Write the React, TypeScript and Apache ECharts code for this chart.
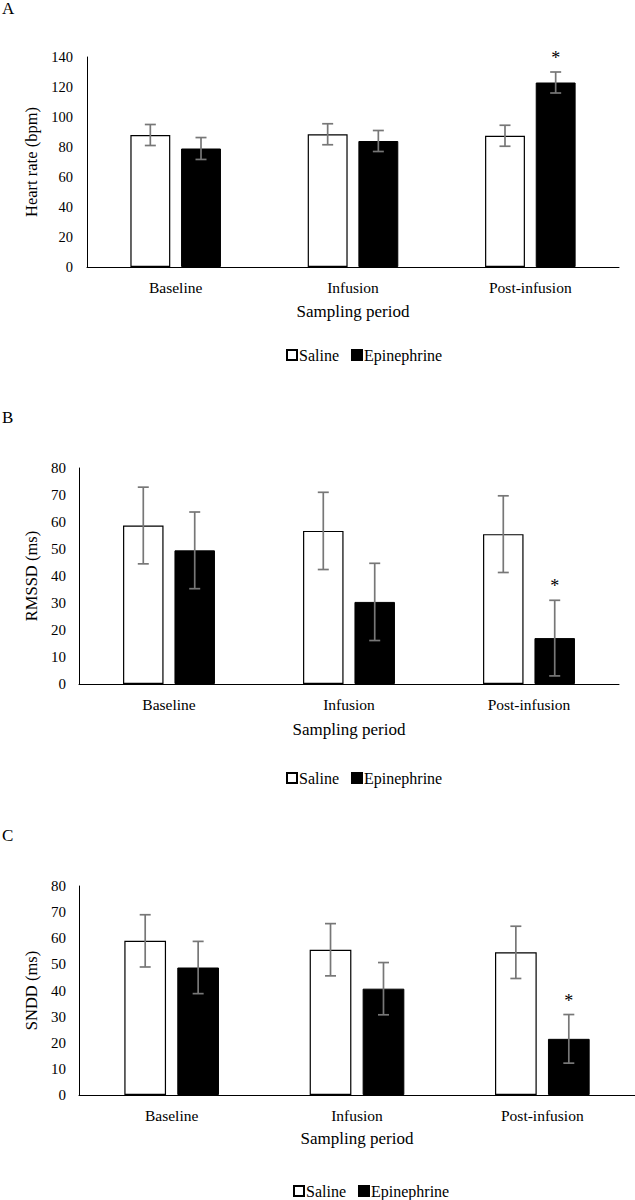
import React, { useEffect, useRef } from "react";
import * as echarts from "echarts";

const categories = ["Baseline", "Infusion", "Post-infusion"];
const seriesNames = ["Saline", "Epinephrine"];

// Panel A: Heart rate (bpm)
const hrSaline = [88, 88.5, 87.5];
const hrSalineSem = [7, 7, 7];
const hrEpi = [79, 84, 123];
const hrEpiSem = [7.3, 7, 7];
const hrSig = [0, 0, 1];

// Panel B: RMSSD (ms)
const rmssdSaline = [58.7, 56.7, 55.5];
const rmssdSalineSem = [14.2, 14.3, 14.2];
const rmssdEpi = [49.5, 30.4, 17];
const rmssdEpiSem = [14.2, 14.3, 14];
const rmssdSig = [0, 0, 1];

// Panel C: SNDD (ms)
const snddSaline = [59, 55.6, 54.6];
const snddSalineSem = [10, 10, 10];
const snddEpi = [48.8, 40.7, 21.5];
const snddEpiSem = [10, 10, 9.3];
const snddSig = [0, 0, 1];

const panelLetters = ["A", "B", "C"];
const yTitles = ["Heart rate (bpm)", "RMSSD (ms)", "SNDD (ms)"];
const yMax = [140, 80, 80];
const yInterval = [20, 10, 10];
const xTitle = "Sampling period";

const FONT = "'Liberation Serif', 'Times New Roman', serif";
const BAR_FRAC = 0.225;
const GAP_FRAC = 0.27;

export default function App() {
  const ref = useRef<HTMLDivElement>(null);
  useEffect(() => {
    if (!ref.current) return;
    const chart = echarts.init(ref.current, null, { renderer: "svg" });

    const panels = [
      { sal: hrSaline, salSem: hrSalineSem, epi: hrEpi, epiSem: hrEpiSem, sig: hrSig },
      { sal: rmssdSaline, salSem: rmssdSalineSem, epi: rmssdEpi, epiSem: rmssdEpiSem, sig: rmssdSig },
      { sal: snddSaline, salSem: snddSalineSem, epi: snddEpi, epiSem: snddEpiSem, sig: snddSig },
    ];

    const grids = [
      { left: 87, width: 532, top: 57, height: 210 },
      { left: 79, width: 540, top: 468, height: 216 },
      { left: 79, width: 556, top: 886, height: 209 },
    ];
    const xNameGap = [36, 37, 35];
    const yNameGap = [44, 35, 35];
    const yLabelMargin = [14, 13, 13];
    const legendPos = [
      { left: 286, top: 347 },
      { left: 286, top: 770 },
      { left: 293, top: 1183 },
    ];
    const letterTop = [0, 409, 827];

    const series: any[] = [];
    panels.forEach((p, i) => {
      series.push({
        type: "bar",
        name: seriesNames[0],
        xAxisIndex: i,
        yAxisIndex: i,
        data: p.sal,
        barWidth: BAR_FRAC * 100 + "%",
        barGap: GAP_FRAC * 100 + "%",
        itemStyle: { color: "#ffffff", borderColor: "#000000", borderWidth: 1.2 },
      });
      series.push({
        type: "bar",
        name: seriesNames[1],
        xAxisIndex: i,
        yAxisIndex: i,
        data: p.epi,
        barWidth: BAR_FRAC * 100 + "%",
        barGap: GAP_FRAC * 100 + "%",
        itemStyle: { color: "#000000", borderColor: "#000000", borderWidth: 1 },
      });
      const errData: number[][] = [];
      categories.forEach((_, c) => {
        errData.push([c, p.sal[c], p.salSem[c], 0, 0]);
        errData.push([c, p.epi[c], p.epiSem[c], 1, p.sig[c]]);
      });
      series.push({
        type: "custom",
        name: "err" + i,
        xAxisIndex: i,
        yAxisIndex: i,
        clip: false,
        silent: true,
        z: 5,
        encode: { x: 0, y: 1 },
        data: errData,
        renderItem: (params: any, api: any) => {
          const cat = api.value(0);
          const mean = api.value(1);
          const sem = api.value(2);
          const s = api.value(3);
          const sig = api.value(4);
          const band = api.size([1, 0])[0];
          const bw = band * BAR_FRAC;
          const gap = bw * GAP_FRAC;
          const off = (s === 0 ? -1 : 1) * (bw + gap) / 2;
          const top = api.coord([cat, mean + sem]);
          const bot = api.coord([cat, mean - sem]);
          const x = top[0] + off;
          const cap = 5.5;
          const st = { stroke: "#777777", lineWidth: 1.7 };
          const children: any[] = [
            { type: "line", shape: { x1: x, y1: top[1], x2: x, y2: bot[1] }, style: st },
            { type: "line", shape: { x1: x - cap, y1: top[1], x2: x + cap, y2: top[1] }, style: st },
            { type: "line", shape: { x1: x - cap, y1: bot[1], x2: x + cap, y2: bot[1] }, style: st },
          ];
          if (sig) {
            children.push({
              type: "text",
              x: x,
              y: top[1] - 14,
              style: {
                text: "*",
                fill: "#000",
                font: "18px " + FONT,
                align: "center",
                verticalAlign: "middle",
              },
            });
          }
          return { type: "group", children };
        },
      });
    });

    const option: any = {
      animation: false,
      backgroundColor: "#ffffff",
      textStyle: { fontFamily: FONT },
      grid: grids.map((g) => ({ ...g, containLabel: false })),
      xAxis: grids.map((_, i) => ({
        type: "category",
        gridIndex: i,
        data: categories,
        axisLine: { show: true, lineStyle: { color: "#000", width: 1 } },
        axisTick: { show: false },
        axisLabel: { color: "#000", fontSize: 15.5, fontFamily: FONT, margin: 12 },
        name: xTitle,
        nameLocation: "middle",
        nameGap: xNameGap[i],
        nameTextStyle: { color: "#000", fontSize: 17, fontFamily: FONT },
        splitLine: { show: false },
      })),
      yAxis: grids.map((_, i) => ({
        type: "value",
        gridIndex: i,
        min: 0,
        max: yMax[i],
        interval: yInterval[i],
        axisLine: { show: true, lineStyle: { color: "#000", width: 1 } },
        axisTick: { show: false },
        splitLine: { show: false },
        axisLabel: { color: "#000", fontSize: i === 0 ? 14.5 : 15, fontFamily: FONT, margin: yLabelMargin[i] },
        name: yTitles[i],
        nameLocation: "middle",
        nameGap: yNameGap[i],
        nameRotate: 90,
        nameTextStyle: { color: "#000", fontSize: 16.5, fontFamily: FONT },
      })),
      legend: legendPos.map((lp) => ({
        left: lp.left,
        top: lp.top,
        padding: 0,
        data: seriesNames,
        icon: "rect",
        itemWidth: 10,
        itemHeight: 10,
        itemGap: 12,
        selectedMode: false,
        textStyle: { color: "#000", fontSize: 16, fontFamily: FONT, padding: [0, 0, 0, -3] },
      })),
      graphic: panelLetters.map((t, i) => ({
        type: "text",
        left: 2,
        top: letterTop[i],
        style: { text: t, fill: "#000", font: "17px " + FONT },
      })),
      series,
    };

    chart.setOption(option);
    return () => chart.dispose();
  }, []);

  return (
    <div
      ref={ref}
      style={{ position: "absolute", left: 0, top: 0, width: 635, height: 1200 }}
    />
  );
}
